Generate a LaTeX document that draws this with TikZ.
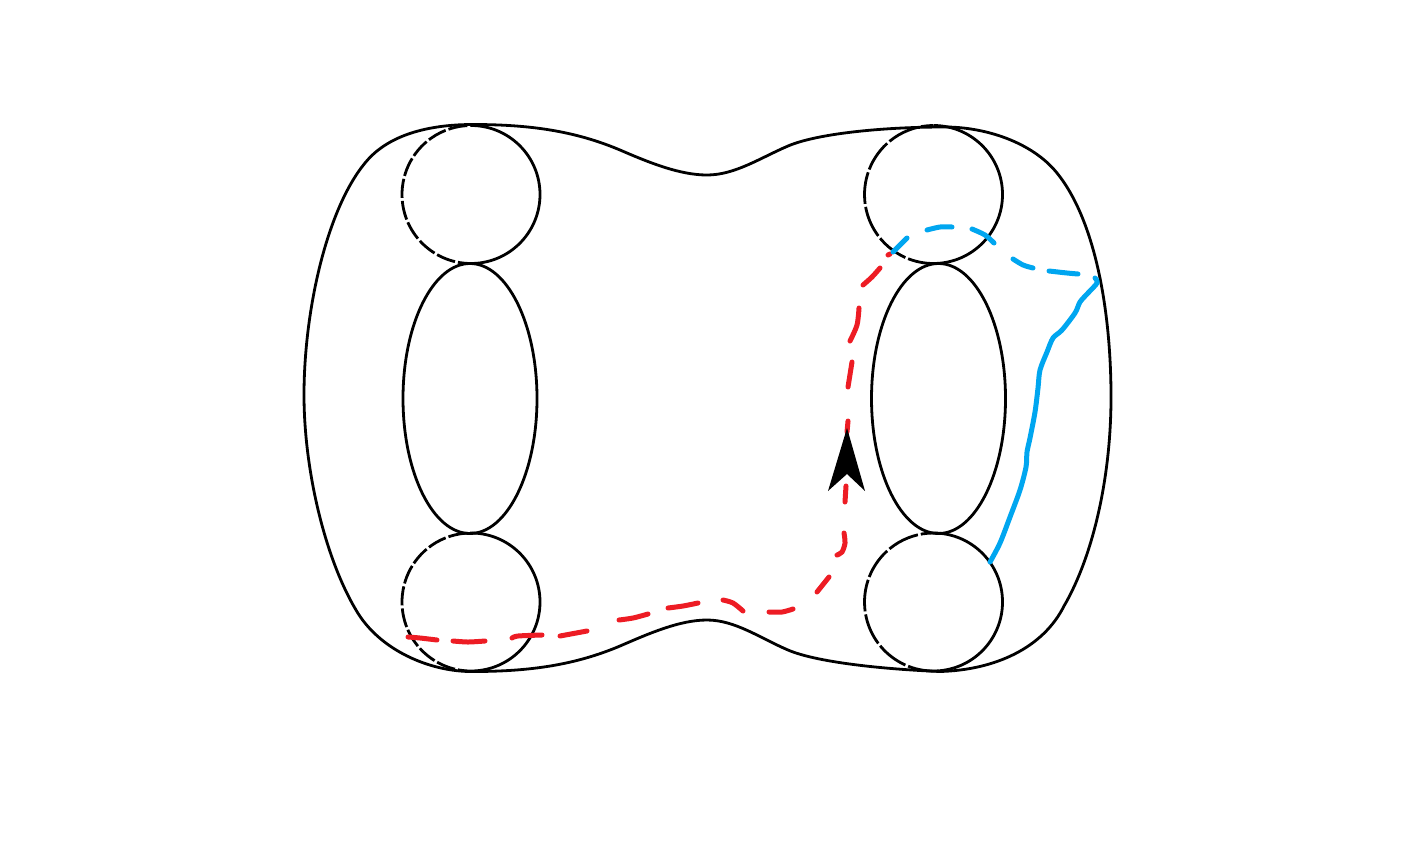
\documentclass[tikz,border=0pt]{standalone}
\usepackage{xcolor}
\usetikzlibrary{calc}
\definecolor{curvered}{RGB}{237,28,36}
\definecolor{curveblue}{RGB}{0,166,240}
\tikzstyle{outline} = [black, line width=1.4pt]
\tikzstyle{hiddenshort} = [outline, dash pattern=on 9.6pt off 1.5pt]
\tikzstyle{hiddenlong} = [outline, dash pattern=on 16pt off 1.5pt]
\tikzstyle{redcurve} = [curvered, line width=2.5pt, line cap=round]
\tikzstyle{bluecurve} = [curveblue, line width=2.5pt, line cap=round]

\begin{document}
\begin{tikzpicture}[x=0.5pt, y=-0.5pt]
    \useasboundingbox (0,0) rectangle (1416,851);
    \coordinate (lefttop) at (471,194.5);
    \coordinate (leftbottom) at (471,602);
    \coordinate (righttop) at (933.5,194.5);
    \coordinate (rightbottom) at (933.5,602);
    \coordinate (leftmid) at (470,398.5);
    \coordinate (rightmid) at (938.5,398.5);

    % surface
    \draw [outline] (473,124.5) .. controls (530,124.5) and (575,131) .. (620,150)
        .. controls (650,163) and (680,175) .. (707,175)
        .. controls (735,175) and (760,158) .. (788,146)
        .. controls (816,134) and (880,127) .. (945,127)
        .. controls (985,127) and (1032,142) .. (1057,173)
        .. controls (1095,220) and (1111,310) .. (1111,397)
        .. controls (1111,480) and (1092,558) .. (1064,606)
        .. controls (1043,648) and (995,670) .. (940,671.5)
        .. controls (880,669) and (816,662) .. (788,650)
        .. controls (760,638) and (735,620) .. (707,620)
        .. controls (680,620) and (650,633) .. (620,646)
        .. controls (575,665) and (530,671.5) .. (473,671.5)
        .. controls (430,672) and (379,650) .. (356,610)
        .. controls (325,558) and (304,470) .. (304,395)
        .. controls (304,310) and (327,209) .. (365,163)
        .. controls (390,132) and (435,124.5) .. (473,124.5);

    % cuffs
    \draw [outline] (leftmid) ellipse [x radius=67, y radius=135];
    \draw [outline] (rightmid) ellipse [x radius=67, y radius=135];
    \foreach \cuff/\backside in {lefttop/hiddenshort, leftbottom/hiddenshort, righttop/hiddenlong, rightbottom/hiddenlong} {
        \draw [outline] (\cuff) ++(-90:69) arc [start angle=-90, end angle=85, radius=69];
        \draw [\backside] (\cuff) ++(85:69) arc [start angle=85, end angle=270, radius=69];
    }

    % red curve
    \draw [redcurve] plot [smooth, tension=0.5] coordinates {(408,637) (420,638) (437,640)}
        plot [smooth, tension=0.5] coordinates {(453,641) (468,642) (485,641)}
        plot [smooth, tension=0.5] coordinates {(512,638) (518,636) (542,635)}
        plot [smooth, tension=0.5] coordinates {(560,636) (587,631)}
        plot [smooth, tension=0.5] coordinates {(619,620) (633,618) (648,614)}
        plot [smooth, tension=0.5] coordinates {(668,608) (683,606) (698,603)}
        plot [smooth, tension=0.5] coordinates {(723,600) (733,603) (743,611)}
        plot [smooth, tension=0.5] coordinates {(769,612) (782,612) (793,609)}
        plot [smooth, tension=0.5] coordinates {(817,592) (829,577)}
        plot [smooth, tension=0.5] coordinates {(837,555) (842,552) (845,543) (844,533)}
        plot [smooth, tension=0.5] coordinates {(845,502) (846,486)}
        plot [smooth, tension=0.5] coordinates {(848,421) (847,432)}
        plot [smooth, tension=0.5] coordinates {(848,387) (852,362)}
        plot [smooth, tension=0.5] coordinates {(850,341) (857,325) (859,308)}
        plot [smooth, tension=0.5] coordinates {(863,285) (872,277) (880,268)}
        plot [smooth, tension=0.5] coordinates {(888,255) (890,254)};

    % blue curve
    \draw [bluecurve] plot [smooth, tension=0.5] coordinates {(893,252) (907,238)}
        plot [smooth, tension=0.5] coordinates {(927,230) (940,227) (952,227)}
        plot [smooth, tension=0.5] coordinates {(972,229) (985,235) (994,243)}
        plot [smooth, tension=0.5] coordinates {(1013,259) (1023,265) (1033,268)}
        plot [smooth, tension=0.5] coordinates {(1049,271) (1067,273) (1078,274)};
    \draw [bluecurve] plot [smooth, tension=0.5] coordinates {(1095,278) (1097,283) (1088,293) (1080,302) (1075,313) (1062,330) (1053,338) (1047,352) (1040,370) (1038,388) (1035,412) (1030,438) (1027,452) (1026,467) (1020,490) (1010,517) (1000,543) (990,562)};

    % direction
    \fill [black] (847,428) -- (865,491) -- (847,474) -- (828,491) -- cycle;
\end{tikzpicture}
\end{document}
